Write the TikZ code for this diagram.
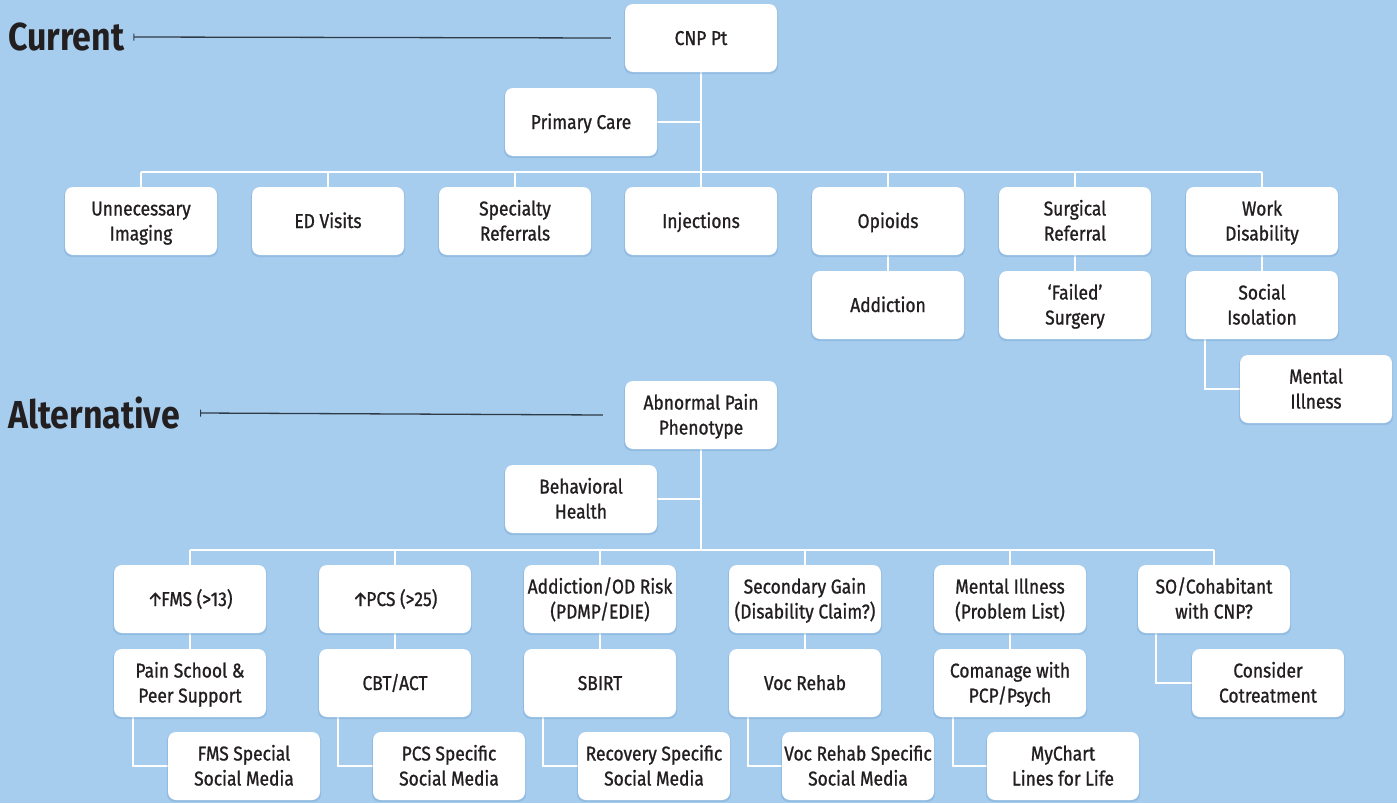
\documentclass[tikz,border=0pt]{standalone}
\usepackage{fontspec}
\setmainfont{Fira Sans}[FakeStretch=0.87]
\newfontfamily\boxfont{Fira Sans}[FakeStretch=0.87,FakeBold=1.0]
\usetikzlibrary{arrows.meta,shadows}
\definecolor{bg}{HTML}{A7CDEE}
\definecolor{ink}{HTML}{231F20}
\definecolor{glow}{HTML}{6E9FCC}
\definecolor{rule}{HTML}{2E3A46}
\pgfdeclarelayer{back}
\pgfdeclarelayer{wires}
\pgfsetlayers{back,wires,main}
\tikzset{
  box/.style={draw=none, fill=white, rounded corners=8pt, minimum width=152pt, minimum height=68pt,
    align=center, text=ink, font=\boxfont\fontsize{20}{25}\selectfont, inner sep=0pt,
    text height=19pt, text depth=5pt,
    drop shadow={shadow xshift=0pt, shadow yshift=-1.5pt, opacity=0.35, fill=glow, shadow scale=1.015}},
  two/.style={text height=44pt, text depth=5pt},
  conn/.style={draw=white, line width=2pt},
  heading/.style={anchor=west, text=ink, font=\fontsize{39}{44}\selectfont\bfseries, inner sep=0pt},
  labline/.style={draw=rule, line width=1.3pt, {Bar[width=7pt,line width=1pt]}-{}}
}
\begin{document}
\begin{tikzpicture}[x=1pt,y=-1pt]
\begin{pgfonlayer}{back}
\fill[bg] (0,0) rectangle (1397,803);
\end{pgfonlayer}
\useasboundingbox (0,0) rectangle (1397,803);

% ---------- Current ----------
\node[heading] (cur) at (8,37) {Current};
\node[box] (cnp) at (701,38) {CNP Pt};
\node[box] (pc) at (581,122) {Primary Care};
\node[box,two] (ui) at (141,221) {Unnecessary\\Imaging};
\node[box] (ed) at (328,221) {ED Visits};
\node[box,two] (sr) at (515,221) {Specialty\\Referrals};
\node[box] (inj) at (701,221) {Injections};
\node[box] (op) at (888,221) {Opioids};
\node[box,two] (sur) at (1075,221) {Surgical\\Referral};
\node[box,two] (wd) at (1262,221) {Work\\Disability};
\node[box] (add) at (888,305) {Addiction};
\node[box,two] (fs) at (1075,305) {‘Failed’\\Surgery};
\node[box,two] (si) at (1262,305) {Social\\Isolation};
\node[box,two] (mi) at (1316,389) {Mental\\Illness};
\coordinate (tb) at (701,172);

\draw[labline] ([xshift=9pt]cur.east) -- ([xshift=-14pt]cnp.west);

\begin{pgfonlayer}{wires}
\draw[conn] (cnp.south) -- (tb);
\draw[conn] (pc.east) -- (pc.east -| cnp.south);
\draw[conn] (ui.north |- tb) -- (wd.north |- tb);
\foreach \n in {ui,ed,sr,inj,op,sur,wd} \draw[conn] (\n.north) -- (\n.north |- tb);
\draw[conn] (op.south) -- (add.north);
\draw[conn] (sur.south) -- (fs.north);
\draw[conn] (wd.south) -- (si.north);
\draw[conn] ([xshift=19pt]si.south west) |- (mi.west);
\end{pgfonlayer}

% ---------- Alternative ----------
\node[heading] (alt) at (8,413) {Alternative};
\node[box,two] (apn) at (701,415) {Abnormal Pain\\Phenotype};
\node[box,two] (bh) at (581,499) {Behavioral\\Health};
\node[box] (a1) at (190,599) {↑\kern-2ptFMS (>13)};
\node[box] (b1) at (395,599) {↑\kern-2ptPCS (>25)};
\node[box,two] (c1) at (600,599) {Addiction/OD Risk\\(PDMP/EDIE)};
\node[box,two] (d1) at (805,599) {Secondary Gain\\(Disability Claim?)};
\node[box,two] (e1) at (1010,599) {Mental Illness\\(Problem List)};
\node[box,two] (f1) at (1214,599) {SO/Cohabitant\\with CNP?};
\node[box,two] (a2) at (190,683) {Pain School \&\\Peer Support};
\node[box] (b2) at (395,683) {CBT/ACT};
\node[box] (c2) at (600,683) {SBIRT};
\node[box] (d2) at (805,683) {Voc Rehab};
\node[box,two] (e2) at (1010,683) {Comanage with\\PCP/Psych};
\node[box,two] (f2) at (1268,683) {Consider\\Cotreatment};
\node[box,two] (a3) at (244,766) {FMS Special\\Social Media};
\node[box,two] (b3) at (449,766) {PCS Specific\\Social Media};
\node[box,two] (c3) at (654,766) {Recovery Specific\\Social Media};
\node[box,two] (d3) at (858,766) {Voc Rehab Specific\\Social Media};
\node[box,two] (e3) at (1063,766) {MyChart\\Lines for Life};
\coordinate (bb) at (701,550);

\draw[labline] ([xshift=20pt]alt.east) -- ([xshift=-22pt]apn.west);

\begin{pgfonlayer}{wires}
\draw[conn] (apn.south) -- (bb);
\draw[conn] (bh.east) -- (bh.east -| apn.south);
\draw[conn] (a1.north |- bb) -- (f1.north |- bb);
\foreach \n in {a1,b1,c1,d1,e1,f1} \draw[conn] (\n.north) -- (\n.north |- bb);
\foreach \n in {a,b,c,d,e} \draw[conn] (\n1.south) -- (\n2.north);
\foreach \n in {a,b,c,d,e} \draw[conn] ([xshift=19pt]\n2.south west) |- (\n3.west);
\draw[conn] ([xshift=18pt]f1.south west) |- (f2.west);
\end{pgfonlayer}
\end{tikzpicture}
\end{document}
